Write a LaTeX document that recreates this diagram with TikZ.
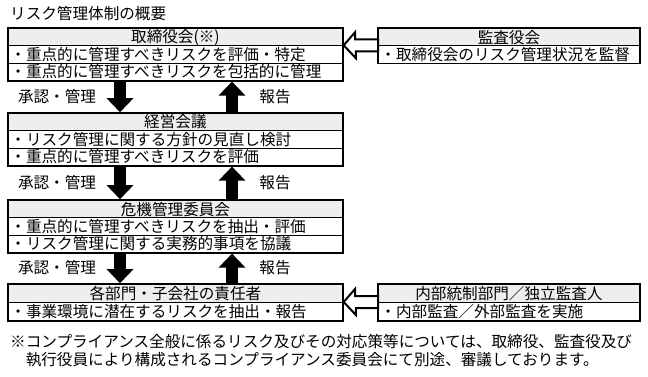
\documentclass[tikz,border=0pt]{standalone}
\usepackage{fontspec}
\newfontfamily\jp{Noto Sans CJK JP}
\usetikzlibrary{arrows.meta,calc,fit}
\definecolor{hdr}{RGB}{238,238,238}
\tikzset{
  txt/.style={font=\jp\fontsize{15.6pt}{17pt}\selectfont, inner sep=0pt},
  rowL/.style={txt, draw=black, line width=0.9pt, anchor=north west, minimum width=334pt, minimum height=17.3pt, text width=330pt, align=left, inner xsep=2pt},
  hdrL/.style={rowL, fill=hdr, align=center},
  rowR/.style={txt, draw=black, line width=0.9pt, anchor=north west, minimum width=261pt, minimum height=17.3pt, text width=257pt, align=left, inner xsep=2pt},
  hdrR/.style={rowR, fill=hdr, align=center},
  frame/.style={draw=black, line width=1.6pt, inner sep=0pt},
  fatarrow/.style={line width=12pt, -{Triangle[width=26pt,length=14pt]}},
  hollowarrow/.style={draw=black, line width=2pt, fill=white, line join=miter},
  lbl/.style={txt}
}
\begin{document}
\begin{tikzpicture}[x=1pt,y=-1pt]
\useasboundingbox (0,0) rectangle (648,377);
\node[txt, anchor=west] (title) at (10,14) {リスク管理体制の概要};
% box 1
\node[hdrL] (a1) at (8,28) {取締役会(※)};
\node[rowL] (a2) at (8,45.3) {・重点的に管理すべきリスクを評価・特定};
\node[rowL] (a3) at (8,62.6) {・重点的に管理すべきリスクを包括的に管理};
\node[frame, fit=(a1)(a3)] (fa) {};
% box 2
\node[hdrL] (b1) at (8,113) {経営会議};
\node[rowL] (b2) at (8,130.3) {・リスク管理に関する方針の見直し検討};
\node[rowL] (b3) at (8,147.6) {・重点的に管理すべきリスクを評価};
\node[frame, fit=(b1)(b3)] (fb) {};
% box 3
\node[hdrL] (c1) at (8,200) {危機管理委員会};
\node[rowL] (c2) at (8,217.3) {・重点的に管理すべきリスクを抽出・評価};
\node[rowL] (c3) at (8,234.6) {・リスク管理に関する実務的事項を協議};
\node[frame, fit=(c1)(c3)] (fc) {};
% box 4
\node[hdrL, minimum height=18pt] (d1) at (8,284) {各部門・子会社の責任者};
\node[rowL, minimum height=18pt] (d2) at (8,302) {・事業環境に潜在するリスクを抽出・報告};
\node[frame, fit=(d1)(d2)] (fd) {};
% right boxes
\node[hdrR] (r1) at (378,28) {監査役会};
\node[rowR] (r2) at (378,45.3) {・取締役会のリスク管理状況を監督};
\node[frame, fit=(r1)(r2)] (fr) {};
\node[hdrR, minimum height=18pt] (s1) at (378,284) {内部統制部門／独立監査人};
\node[rowR, minimum height=18pt] (s2) at (378,302) {・内部監査／外部監査を実施};
\node[frame, fit=(s1)(s2)] (fs) {};
% columns for vertical arrows
\coordinate (colL) at (120,0);
\coordinate (colR) at (232,0);
% vertical arrows
\draw[fatarrow] (fa.south -| colL) -- (fb.north -| colL);
\draw[fatarrow] (fb.north -| colR) -- (fa.south -| colR);
\draw[fatarrow] (fb.south -| colL) -- (fc.north -| colL);
\draw[fatarrow] (fc.north -| colR) -- (fb.south -| colR);
\draw[fatarrow] (fc.south -| colL) -- (fd.north -| colL);
\draw[fatarrow] (fd.north -| colR) -- (fc.south -| colR);
% labels
\node[lbl] (l1a) at (57,96.5) {承認・管理};
\node[lbl] (l1b) at (275,96.5) {報告};
\node[lbl] (l2a) at (57,182.5) {承認・管理};
\node[lbl] (l2b) at (275,182.5) {報告};
\node[lbl] (l3a) at (57,268) {承認・管理};
\node[lbl] (l3b) at (275,268) {報告};
% hollow arrows
\draw[hollowarrow] ($(r2.north west)+(0,-6)$) -- ++(-23,0) -- ++(0,-7) -- ($(a2.north east)+(0.8,0)$) -- ++(12.2,13) -- ++(0,-7) -- ($(r2.north west)+(0,6)$) -- cycle;
\draw[hollowarrow] ($(s2.north west)+(0,-6)$) -- ++(-23,0) -- ++(0,-7) -- ($(d2.north east)+(0.8,0)$) -- ++(12.2,13) -- ++(0,-7) -- ($(s2.north west)+(0,6)$) -- cycle;
% footnote
\node[txt, anchor=west] (fn1) at (10,342) {※コンプライアンス全般に係るリスク及びその対応策等については、取締役、監査役及び};
\node[txt, anchor=west] (fn2) at (10,360) {　執行役員により構成されるコンプライアンス委員会にて別途、審議しております。};
\end{tikzpicture}
\end{document}
